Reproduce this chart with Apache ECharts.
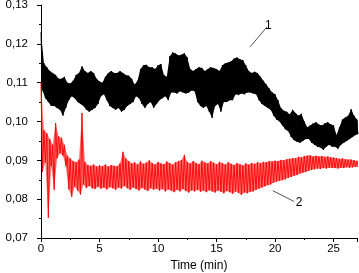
<!DOCTYPE html>
<html lang="en">
<head>
  <meta charset="UTF-8">
  <title>Friction coefficient</title>
  <script src="https://cdn.jsdelivr.net/npm/echarts@6/dist/echarts.min.js"></script>
  <style>
    html, body { margin: 0; padding: 0; background: #fff; }
    #chart { width: 359px; height: 273px; }
  </style>
</head>
<body>
  <div id="chart"></div>
  <script>
    // sampling step of the envelopes below (min)
    const step = 0.25;

    // curve 1 (black): upper / lower edge of the noise band, t = 0, 0.25, ... 27
    const blackHi = [
      0.123, 0.115, 0.114, 0.113, 0.1125, 0.112, 0.111, 0.111, 0.1115, 0.110, 0.1098, 0.1105,
      0.112, 0.1125, 0.1142, 0.113, 0.1125, 0.113, 0.1125, 0.111, 0.1103, 0.110, 0.1115, 0.1125,
      0.113, 0.1125, 0.1125, 0.113, 0.1125, 0.112, 0.1118, 0.111, 0.1095, 0.1105, 0.1135, 0.1145,
      0.1146, 0.114, 0.114, 0.1135, 0.1145, 0.1148, 0.112, 0.1115, 0.1168, 0.1178, 0.1175, 0.117,
      0.1172, 0.1176, 0.1165, 0.1135, 0.113, 0.1135, 0.114, 0.1138, 0.113, 0.1135, 0.114, 0.1138,
      0.1135, 0.113, 0.1145, 0.115, 0.1152, 0.1155, 0.1162, 0.1165, 0.116, 0.1158, 0.1145, 0.113,
      0.1125, 0.1128, 0.1125, 0.1115, 0.1105, 0.1095, 0.1085, 0.1075, 0.107, 0.1055, 0.1035, 0.1028,
      0.1025, 0.1018, 0.103, 0.1022, 0.1015, 0.102, 0.100, 0.0985, 0.099, 0.0995, 0.0998, 0.0992,
      0.099, 0.0995, 0.0998, 0.0993, 0.099, 0.0965, 0.0985, 0.1005, 0.101, 0.1015, 0.1032, 0.1015,
      0.1005
    ];
    const blackLo = [
      0.108, 0.106, 0.105, 0.104, 0.104, 0.1035, 0.103, 0.1015, 0.1035, 0.1055, 0.1065, 0.106,
      0.105, 0.1045, 0.104, 0.103, 0.1025, 0.103, 0.1035, 0.1045, 0.1065, 0.107, 0.1055, 0.104,
      0.1035, 0.103, 0.1035, 0.1025, 0.103, 0.104, 0.1045, 0.105, 0.1065, 0.106, 0.1045, 0.1035,
      0.1045, 0.105, 0.1035, 0.1045, 0.1055, 0.106, 0.1065, 0.1055, 0.1075, 0.1075, 0.1072, 0.1078,
      0.1075, 0.1072, 0.1075, 0.108, 0.1078, 0.105, 0.104, 0.1035, 0.104, 0.1025, 0.1009, 0.104,
      0.1045, 0.1025, 0.105, 0.105, 0.1055, 0.1055, 0.107, 0.1068, 0.1072, 0.107, 0.1075, 0.1075,
      0.1072, 0.107, 0.1055, 0.1045, 0.104, 0.1035, 0.103, 0.1015, 0.1005, 0.100, 0.099, 0.098,
      0.0975, 0.096, 0.0952, 0.0948, 0.0945, 0.095, 0.0955, 0.0955, 0.0945, 0.094, 0.0935, 0.0933,
      0.0927, 0.0935, 0.094, 0.0935, 0.0935, 0.093, 0.094, 0.0945, 0.095, 0.0955, 0.096, 0.0965,
      0.0968
    ];

    // curve 2 (red)
    const redHi = [
      0.110, 0.0978, 0.097, 0.0955, 0.094, 0.0996, 0.0962, 0.0958, 0.094, 0.0912, 0.0905, 0.0898,
      0.0895, 0.0902, 0.1022, 0.0896, 0.0888, 0.0886, 0.0889, 0.0884, 0.0887, 0.0885, 0.0889, 0.0884,
      0.0888, 0.0886, 0.0885, 0.0892, 0.0922, 0.0905, 0.0898, 0.0892, 0.0895, 0.0889, 0.0897, 0.0891,
      0.0894, 0.0900, 0.0893, 0.0889, 0.0896, 0.0892, 0.0890, 0.0897, 0.0893, 0.0889, 0.0895, 0.0898,
      0.0901, 0.0914, 0.0896, 0.0892, 0.0898, 0.0893, 0.0890, 0.0899, 0.0895, 0.0892, 0.0898, 0.0894,
      0.0890, 0.0896, 0.0893, 0.0889, 0.0895, 0.0891, 0.0888, 0.0893, 0.0890, 0.0887, 0.0892, 0.0889,
      0.0893, 0.0891, 0.0895, 0.0893, 0.0896, 0.0895, 0.0898, 0.0897, 0.0899, 0.0898, 0.0901, 0.0900,
      0.0903, 0.0904, 0.0906, 0.0905, 0.0909, 0.0908, 0.0911, 0.0912, 0.0913, 0.0910, 0.0912, 0.0910,
      0.0911, 0.0909, 0.0910, 0.0908, 0.0907, 0.0906, 0.0904, 0.0905, 0.0903, 0.0902, 0.0902, 0.0900,
      0.0899
    ];
    const redLo = [
      0.087, 0.0895, 0.0752, 0.0885, 0.0824, 0.0905, 0.0918, 0.0912, 0.0885, 0.0825, 0.0806, 0.0832,
      0.0822, 0.0812, 0.0838, 0.0829, 0.0834, 0.0828, 0.0826, 0.0832, 0.0827, 0.0830, 0.0825, 0.0831,
      0.0828, 0.0824, 0.0830, 0.0827, 0.0834, 0.0828, 0.0824, 0.0830, 0.0826, 0.0822, 0.0829, 0.0825,
      0.0821, 0.0828, 0.0824, 0.0827, 0.0822, 0.0826, 0.0820, 0.0825, 0.0822, 0.0818, 0.0824, 0.0820,
      0.0826, 0.0821, 0.0817, 0.0823, 0.0820, 0.0824, 0.0819, 0.0822, 0.0818, 0.0823, 0.0820, 0.0817,
      0.0822, 0.0819, 0.0815, 0.0821, 0.0818, 0.0814, 0.0820, 0.0816, 0.0811, 0.0817, 0.0815, 0.0819,
      0.0820, 0.0824, 0.0827, 0.0830, 0.0833, 0.0836, 0.0838, 0.0842, 0.0845, 0.0847, 0.0849, 0.0851,
      0.0855, 0.0857, 0.0860, 0.0862, 0.0866, 0.0868, 0.0870, 0.0873, 0.0875, 0.0877, 0.0879, 0.0878,
      0.0880, 0.0879, 0.0881, 0.0880, 0.0880, 0.0879, 0.0881, 0.0880, 0.0882, 0.0881, 0.0882, 0.0883,
      0.0883
    ];

    // curve labels with their leader lines: [start, end] in (min, mu)
    const label1 = { text: '1', from: [17.86, 0.1192], to: [19.32, 0.1244] };
    const label2 = { text: '2', from: [19.8, 0.0822], to: [21.62, 0.0794] };

    const yTicks = { min: 0.07, max: 0.13, interval: 0.01 };
    const xTicks = { min: 0, max: 27, interval: 5 };

    // zigzag between upper and lower edge so the band looks like the dense noisy trace
    function zigzag(hi, lo) {
      const pts = [];
      for (let i = 0; i < hi.length; i++) {
        pts.push([i * step, hi[i]]);
        pts.push([i * step + step / 2, lo[i]]);
      }
      return pts;
    }

    // filled body of the band: drawn as polygon through the axes
    function bandSeries(hi, lo, color, opacity) {
      return {
        type: 'custom',
        silent: true,
        data: [0],
        renderItem: (params, api) => {
          const pts = [];
          for (let i = 0; i < hi.length; i++) pts.push(api.coord([i * step, hi[i]]));
          for (let i = lo.length - 1; i >= 0; i--) pts.push(api.coord([i * step + step / 2, lo[i]]));
          return {
            type: 'polygon',
            shape: { points: pts },
            style: { fill: color, opacity: opacity }
          };
        }
      };
    }

    function leader(l) {
      return {
        silent: true,
        symbol: 'none',
        lineStyle: { color: '#555', width: 1, type: 'solid' },
        label: { show: true, position: 'end', formatter: l.text, color: '#000', fontSize: 12, fontFamily: 'Liberation Sans', distance: 2 },
        data: [[{ coord: l.from }, { coord: l.to }]]
      };
    }

    const chart = echarts.init(document.getElementById('chart'));
    const font = 'Liberation Sans';
    chart.setOption({
      animation: false,
      grid: { left: 41, right: 2, top: 5, bottom: 35, containLabel: false, outerBoundsMode: 'none' },
      xAxis: {
        type: 'value',
        min: xTicks.min, max: xTicks.max, interval: xTicks.interval,
        name: 'Time (min)', nameLocation: 'middle', nameGap: 20,
        nameTextStyle: { color: '#000', fontSize: 12, fontFamily: font },
        axisLine: { lineStyle: { color: '#000', width: 1 } },
        axisTick: { length: 4, lineStyle: { color: '#000' } },
        minorTick: { show: true, splitNumber: 2, length: 2, lineStyle: { color: '#000' } },
        splitLine: { show: false },
        axisLabel: { color: '#000', fontSize: 11.5, fontFamily: font, margin: 5, showMaxLabel: false,
          formatter: v => (v % 5 === 0 ? String(v) : '') }
      },
      yAxis: {
        type: 'value',
        min: yTicks.min, max: yTicks.max, interval: yTicks.interval,
        name: 'μ', nameLocation: 'middle', nameGap: 30,
        nameTextStyle: { color: '#000', fontSize: 12, fontFamily: font },
        axisLine: { show: true, lineStyle: { color: '#000', width: 1 } },
        axisTick: { show: true, length: 4, lineStyle: { color: '#000' } },
        minorTick: { show: true, splitNumber: 2, length: 2, lineStyle: { color: '#000' } },
        splitLine: { show: false },
        axisLabel: { color: '#000', fontSize: 11.5, fontFamily: font, margin: 13,
          formatter: v => v.toFixed(2).replace('.', ',') }
      },
      series: [
        bandSeries(blackHi, blackLo, '#000', 1),
        {
          name: '1', type: 'line', data: zigzag(blackHi, blackLo),
          showSymbol: false, lineStyle: { color: '#000', width: 0.9 },
          markLine: leader(label1)
        },
        bandSeries(redHi, redLo, '#ff0000', 0.55),
        {
          name: '2', type: 'line', data: zigzag(redHi, redLo),
          showSymbol: false, lineStyle: { color: '#ff0000', width: 0.9 },
          markLine: leader(label2)
        }
      ]
    });
  </script>
</body>
</html>
